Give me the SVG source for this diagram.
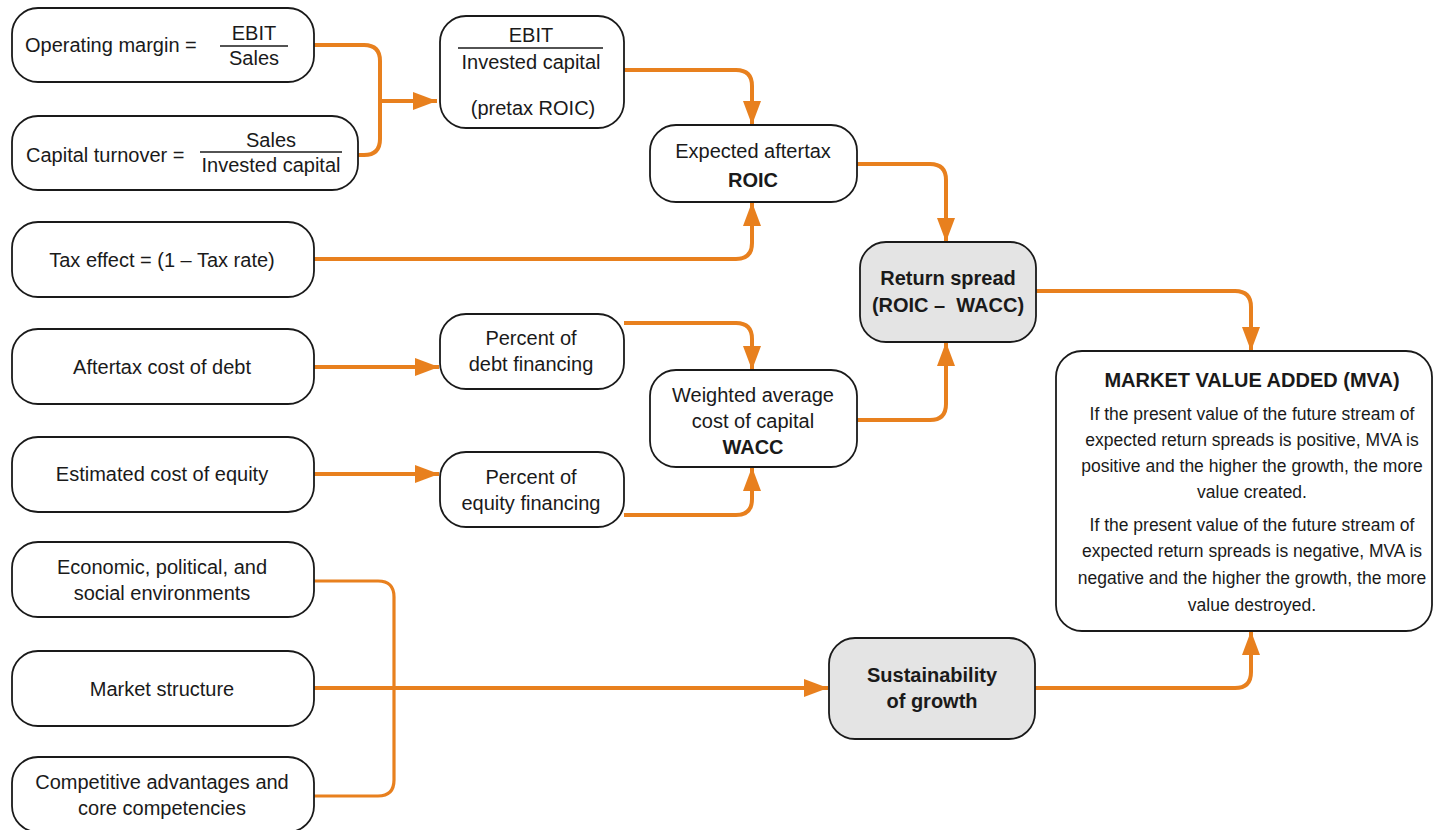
<svg xmlns="http://www.w3.org/2000/svg" width="1435" height="830" viewBox="0 0 1435 830">
<defs>
<marker id="ah" viewBox="0 0 10 10" preserveAspectRatio="none" refX="10" refY="5" markerWidth="6" markerHeight="4.5" markerUnits="strokeWidth" orient="auto">
<path d="M0,0 L10,5 L0,10 Z" fill="#E8801E"/>
</marker>
<style>
.box{fill:#fff;stroke:#1a1a1a;stroke-width:1.8}
.gray{fill:#e4e4e4;stroke:#1a1a1a;stroke-width:1.8}
text{font-family:"Liberation Sans",Arial,sans-serif;font-size:20px;fill:#1a1a1a;dominant-baseline:central}
.c{text-anchor:middle}
.b{font-weight:bold}
.s{font-size:17.5px}
.t{font-size:20px;font-weight:bold}
.frac{stroke:#1a1a1a;stroke-width:1.5}
.con path{fill:none;stroke:#E8801E;stroke-width:4}
.con path.thin{stroke-width:3.2}
</style>
</defs>
<rect width="1435" height="830" fill="#fff"/>
<g class="con">
<path d="M314,45 H364 Q380,45 380,61 V139 Q380,155 364,155 H358"/>
<path d="M380,101 H437" marker-end="url(#ah)"/>
<path d="M624,70 H736 Q752,70 752,86 V125" marker-end="url(#ah)"/>
<path d="M857,164 H930 Q946,164 946,180 V242" marker-end="url(#ah)"/>
<path d="M314,259 H736 Q752,259 752,243 V202" marker-end="url(#ah)"/>
<path d="M314,367 H439" marker-end="url(#ah)"/>
<path d="M314,474 H439" marker-end="url(#ah)"/>
<path d="M624,323 H736 Q752,323 752,339 V370" marker-end="url(#ah)"/>
<path d="M624,515 H736 Q752,515 752,499 V467" marker-end="url(#ah)"/>
<path d="M857,420 H930 Q946,420 946,404 V342" marker-end="url(#ah)"/>
<path d="M1036,291 H1235 Q1251,291 1251,307 V351" marker-end="url(#ah)"/>
<path d="M1035,688 H1235 Q1251,688 1251,672 V631" marker-end="url(#ah)"/>
<path class="thin" d="M314,581 H378 Q394,581 394,597 V780 Q394,796 378,796 H314"/>
<path d="M314,688 H828" marker-end="url(#ah)"/>
</g>
<g id="operating-margin">
<rect class="box" x="12" y="8" width="302" height="74" rx="26"/>
<text x="25" y="45">Operating margin =</text>
<text class="c" x="254" y="33">EBIT</text>
<line class="frac" x1="220" y1="46" x2="288" y2="46"/>
<text class="c" x="254" y="58">Sales</text>
</g>
<g id="capital-turnover">
<rect class="box" x="12" y="116" width="346" height="74" rx="26"/>
<text x="26" y="155">Capital turnover =</text>
<text class="c" x="271" y="140">Sales</text>
<line class="frac" x1="200" y1="152" x2="342" y2="152"/>
<text class="c" x="271" y="165">Invested capital</text>
</g>
<g id="pretax-roic">
<rect class="box" x="440" y="16" width="184" height="112" rx="26"/>
<text class="c" x="531" y="35">EBIT</text>
<line class="frac" x1="458" y1="48" x2="603" y2="48"/>
<text class="c" x="531" y="62">Invested capital</text>
<text class="c" x="533" y="108">(pretax ROIC)</text>
</g>
<g id="aftertax-roic">
<rect class="box" x="650" y="125" width="207" height="77" rx="26"/>
<text class="c" x="753" y="151">Expected aftertax</text>
<text class="c b" x="753" y="180">ROIC</text>
</g>
<g id="tax-effect">
<rect class="box" x="12" y="222" width="302" height="75" rx="26"/>
<text class="c" x="162" y="260">Tax effect = (1 – Tax rate)</text>
</g>
<g id="return-spread">
<rect class="gray" x="860" y="242" width="176" height="100" rx="26"/>
<text class="c b" x="948" y="278">Return spread</text>
<text class="c b" x="948" y="305">(ROIC –&#160; WACC)</text>
</g>
<g id="aftertax-cost-debt">
<rect class="box" x="12" y="329" width="302" height="75" rx="26"/>
<text class="c" x="162" y="367">Aftertax cost of debt</text>
</g>
<g id="percent-debt">
<rect class="box" x="440" y="314" width="184" height="75" rx="26"/>
<text class="c" x="531" y="338">Percent of</text>
<text class="c" x="531" y="364">debt financing</text>
</g>
<g id="wacc">
<rect class="box" x="650" y="370" width="207" height="97" rx="26"/>
<text class="c" x="753" y="395">Weighted average</text>
<text class="c" x="753" y="421">cost of capital</text>
<text class="c b" x="753" y="447">WACC</text>
</g>
<g id="cost-equity">
<rect class="box" x="12" y="437" width="302" height="75" rx="26"/>
<text class="c" x="162" y="474">Estimated cost of equity</text>
</g>
<g id="percent-equity">
<rect class="box" x="440" y="452" width="184" height="75" rx="26"/>
<text class="c" x="531" y="477">Percent of</text>
<text class="c" x="531" y="503">equity financing</text>
</g>
<g id="mva">
<rect class="box" x="1056" y="351" width="376" height="280" rx="26"/>
<text class="c t" x="1252" y="380">MARKET VALUE ADDED (MVA)</text>
<text class="c s" x="1252" y="414">If the present value of the future stream of</text>
<text class="c s" x="1252" y="440">expected return spreads is positive, MVA is</text>
<text class="c s" x="1252" y="466">positive and the higher the growth, the more</text>
<text class="c s" x="1252" y="492">value created.</text>
<text class="c s" x="1252" y="525">If the present value of the future stream of</text>
<text class="c s" x="1252" y="551">expected return spreads is negative, MVA is</text>
<text class="c s" x="1252" y="578">negative and the higher the growth, the more</text>
<text class="c s" x="1252" y="605">value destroyed.</text>
</g>
<g id="environments">
<rect class="box" x="12" y="542" width="302" height="75" rx="26"/>
<text class="c" x="162" y="567">Economic, political, and</text>
<text class="c" x="162" y="593">social environments</text>
</g>
<g id="market-structure">
<rect class="box" x="12" y="651" width="302" height="75" rx="26"/>
<text class="c" x="162" y="689">Market structure</text>
</g>
<g id="competitive">
<rect class="box" x="12" y="757" width="302" height="75" rx="26"/>
<text class="c" x="162" y="782">Competitive advantages and</text>
<text class="c" x="162" y="808">core competencies</text>
</g>
<g id="sustainability">
<rect class="gray" x="829" y="638" width="206" height="101" rx="26"/>
<text class="c b" x="932" y="675">Sustainability</text>
<text class="c b" x="932" y="701">of growth</text>
</g>
</svg>
